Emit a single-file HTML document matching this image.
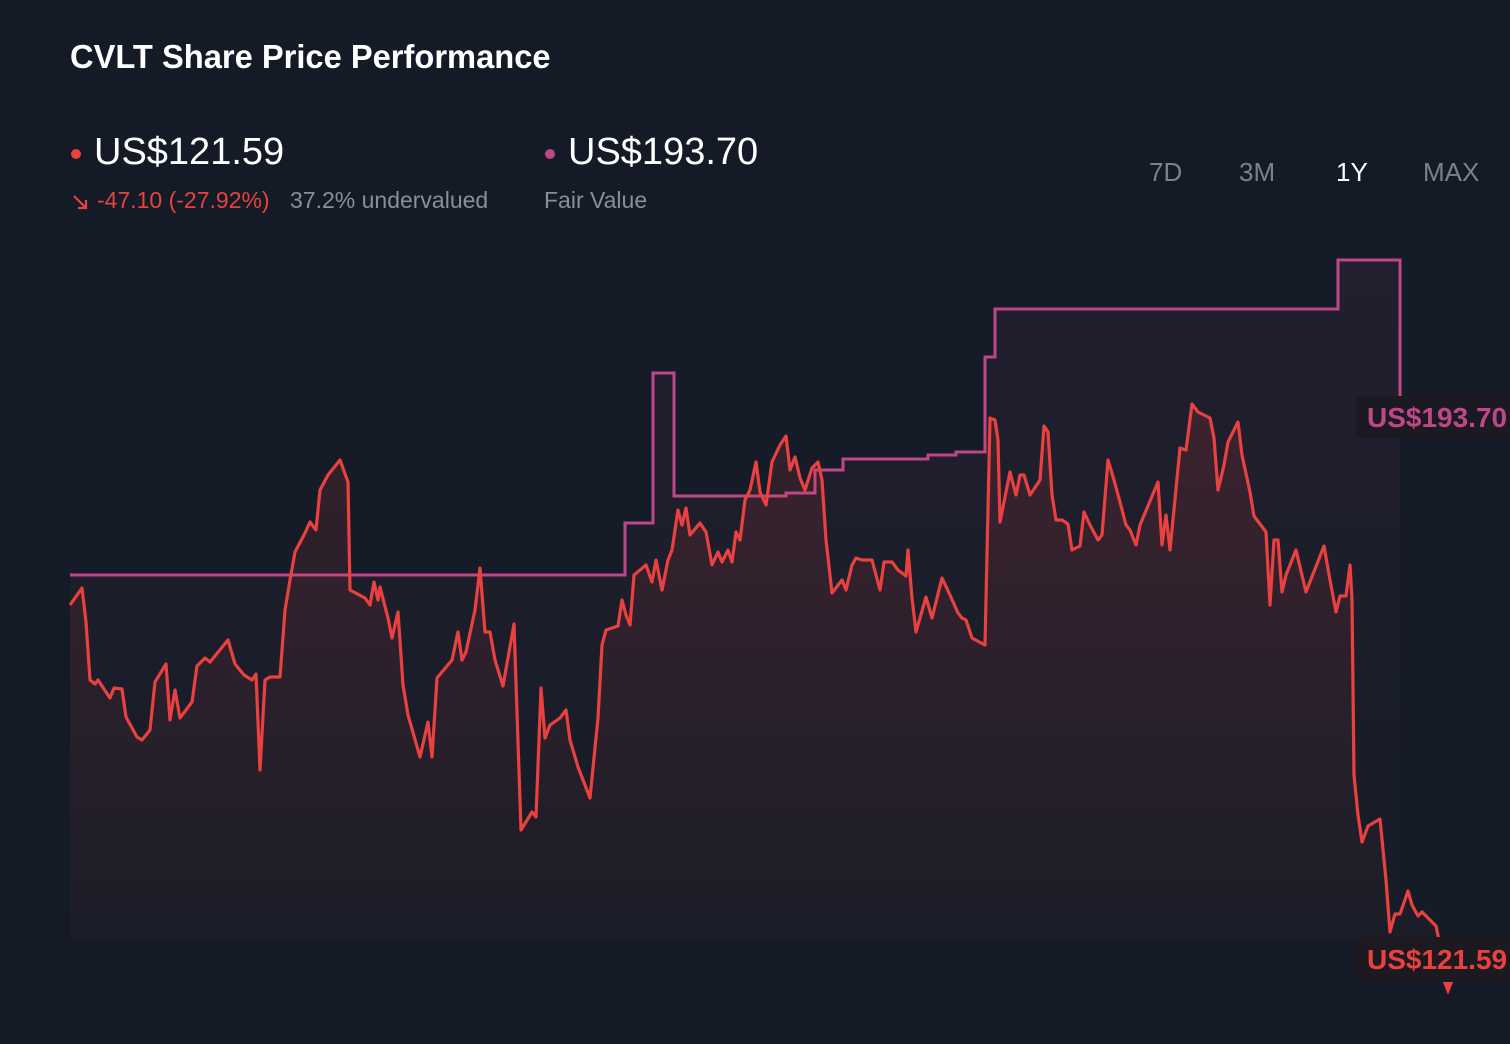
<!DOCTYPE html>
<html><head><meta charset="utf-8"><style>
body{margin:0;background:#151b26;width:1510px;height:1044px;overflow:hidden;font-family:"Liberation Sans",sans-serif;position:relative}
.t{position:absolute;white-space:nowrap}
</style></head><body>
<svg width="1510" height="1044" style="position:absolute;left:0;top:0">
<defs>
<linearGradient id="pg" x1="0" y1="0" x2="0" y2="1"><stop offset="0" stop-color="#e8413f" stop-opacity="0.14"/><stop offset="1" stop-color="#e8413f" stop-opacity="0.02"/></linearGradient>
<linearGradient id="fg" x1="0" y1="0" x2="0" y2="1"><stop offset="0" stop-color="#c0468a" stop-opacity="0.07"/><stop offset="1" stop-color="#c0468a" stop-opacity="0.0"/></linearGradient>
</defs>
<rect x="70" y="215" width="1440" height="725" fill="#161c27"/>
<polygon fill="url(#fg)" points="70,575 625,575 625,523 653,523 653,373 674,373 674,496 786,496 786,493 815,493 815,470 843,470 843,459 928,459 928,455 956,455 956,452 985,452 985,357 995,357 995,309 1338,309 1338,260 1400,260 1400,398 1400,940 70,940"/>
<polyline fill="none" stroke="#c0468a" stroke-width="3" points="70,575 625,575 625,523 653,523 653,373 674,373 674,496 786,496 786,493 815,493 815,470 843,470 843,459 928,459 928,455 956,455 956,452 985,452 985,357 995,357 995,309 1338,309 1338,260 1400,260 1400,398"/>
<polygon fill="url(#pg)" points="70,605 82,588 86,622 90,680 95,684 98,680 110,698 114,688 122,689 126,717 137,737 142,740 150,730 155,682 166,664 170,720 175,690 180,718 192,702 197,666 205,658 210,662 228,640 235,664 244,675 252,680 256,674 260,770 265,680 270,677 280,677 285,610 290,580 295,552 305,533 310,522 316,530 320,490 328,475 340,460 348,482 350,590 365,598 370,605 374,582 378,600 380,587 388,618 392,638 398,612 403,685 408,715 420,757 428,722 432,757 437,678 452,660 458,632 462,660 466,652 475,610 480,568 485,632 490,632 495,660 503,686 514,624 521,830 532,812 536,817 541,688 545,738 550,725 560,718 566,710 570,740 578,767 590,798 598,718 602,645 606,630 618,626 622,600 626,615 630,625 634,575 646,565 652,582 656,560 662,590 668,560 672,550 678,510 682,525 686,508 690,535 700,523 706,532 712,565 718,552 722,562 728,550 732,562 736,532 740,540 745,500 750,490 756,462 760,492 766,505 772,462 780,445 786,436 790,470 795,457 800,478 805,490 812,468 818,462 822,480 826,540 832,593 842,580 846,590 852,565 856,558 862,560 872,560 880,590 884,562 892,562 898,570 906,576 908,550 912,598 916,632 926,597 932,618 942,578 950,595 958,613 962,618 966,620 972,638 985,645 990,418 995,420 998,440 1000,522 1006,492 1010,472 1016,495 1020,475 1024,475 1030,495 1040,480 1044,426 1048,432 1052,495 1056,520 1062,520 1068,524 1072,550 1080,546 1084,512 1090,525 1098,540 1102,535 1108,460 1114,480 1120,502 1126,525 1130,530 1136,545 1140,525 1158,482 1162,545 1166,515 1170,550 1180,448 1186,450 1192,404 1198,412 1210,418 1214,438 1218,490 1224,465 1228,442 1238,422 1242,455 1250,492 1254,516 1266,532 1270,605 1274,540 1278,540 1282,592 1286,575 1296,550 1306,592 1324,546 1330,580 1336,612 1340,596 1346,596 1350,565 1352,600 1354,775 1358,815 1362,842 1368,826 1380,819 1386,880 1390,932 1395,914 1400,914 1408,891 1412,905 1418,916 1422,912 1436,926 1440,945 1440,940 70,940"/>
<polyline fill="none" stroke="#e8413f" stroke-width="3.2" stroke-linejoin="round" points="70,605 82,588 86,622 90,680 95,684 98,680 110,698 114,688 122,689 126,717 137,737 142,740 150,730 155,682 166,664 170,720 175,690 180,718 192,702 197,666 205,658 210,662 228,640 235,664 244,675 252,680 256,674 260,770 265,680 270,677 280,677 285,610 290,580 295,552 305,533 310,522 316,530 320,490 328,475 340,460 348,482 350,590 365,598 370,605 374,582 378,600 380,587 388,618 392,638 398,612 403,685 408,715 420,757 428,722 432,757 437,678 452,660 458,632 462,660 466,652 475,610 480,568 485,632 490,632 495,660 503,686 514,624 521,830 532,812 536,817 541,688 545,738 550,725 560,718 566,710 570,740 578,767 590,798 598,718 602,645 606,630 618,626 622,600 626,615 630,625 634,575 646,565 652,582 656,560 662,590 668,560 672,550 678,510 682,525 686,508 690,535 700,523 706,532 712,565 718,552 722,562 728,550 732,562 736,532 740,540 745,500 750,490 756,462 760,492 766,505 772,462 780,445 786,436 790,470 795,457 800,478 805,490 812,468 818,462 822,480 826,540 832,593 842,580 846,590 852,565 856,558 862,560 872,560 880,590 884,562 892,562 898,570 906,576 908,550 912,598 916,632 926,597 932,618 942,578 950,595 958,613 962,618 966,620 972,638 985,645 990,418 995,420 998,440 1000,522 1006,492 1010,472 1016,495 1020,475 1024,475 1030,495 1040,480 1044,426 1048,432 1052,495 1056,520 1062,520 1068,524 1072,550 1080,546 1084,512 1090,525 1098,540 1102,535 1108,460 1114,480 1120,502 1126,525 1130,530 1136,545 1140,525 1158,482 1162,545 1166,515 1170,550 1180,448 1186,450 1192,404 1198,412 1210,418 1214,438 1218,490 1224,465 1228,442 1238,422 1242,455 1250,492 1254,516 1266,532 1270,605 1274,540 1278,540 1282,592 1286,575 1296,550 1306,592 1324,546 1330,580 1336,612 1340,596 1346,596 1350,565 1352,600 1354,775 1358,815 1362,842 1368,826 1380,819 1386,880 1390,932 1395,914 1400,914 1408,891 1412,905 1418,916 1422,912 1436,926 1440,945"/>
<rect x="1356" y="396" width="160" height="42" rx="6" fill="#1b1a22"/>
<rect x="1356" y="937" width="160" height="43" rx="6" fill="#1c1a20"/>
<polygon points="1443,982 1453,982 1448,995" fill="#e8413f"/>
<circle cx="76" cy="154" r="5" fill="#e8413f"/>
<circle cx="550" cy="154" r="5" fill="#c0468a"/>
<path d="M74 196 L86 208 M86 200 L86 208 L78 208" stroke="#e8413f" stroke-width="2.2" fill="none"/>
</svg>
<div class="t" style="left:70px;top:38px;font-size:33px;font-weight:bold;color:#fff;transform:scaleX(0.99);transform-origin:left">CVLT Share Price Performance</div>
<div class="t" style="left:94px;top:131px;font-size:38px;color:#fff">US$121.59</div>
<div class="t" style="left:568px;top:131px;font-size:38px;color:#fff">US$193.70</div>
<div class="t" style="left:97px;top:187px;font-size:23px;color:#e8413f">-47.10 (-27.92%)</div>
<div class="t" style="left:290px;top:187px;font-size:23px;color:#8b8e95">37.2% undervalued</div>
<div class="t" style="left:544px;top:187px;font-size:23px;color:#8b8e95">Fair Value</div>
<div class="t" style="left:1149px;top:157px;font-size:26px;color:#7d8088">7D</div>
<div class="t" style="left:1239px;top:157px;font-size:26px;color:#7d8088">3M</div>
<div class="t" style="left:1336px;top:157px;font-size:26px;color:#fff">1Y</div>
<div class="t" style="left:1423px;top:157px;font-size:26px;color:#7d8088">MAX</div>
<div class="t" style="left:1367px;top:402px;font-size:28px;font-weight:bold;color:#c0468a">US$193.70</div>
<div class="t" style="left:1367px;top:944px;font-size:28px;font-weight:bold;color:#e8413f">US$121.59</div>
</body></html>
